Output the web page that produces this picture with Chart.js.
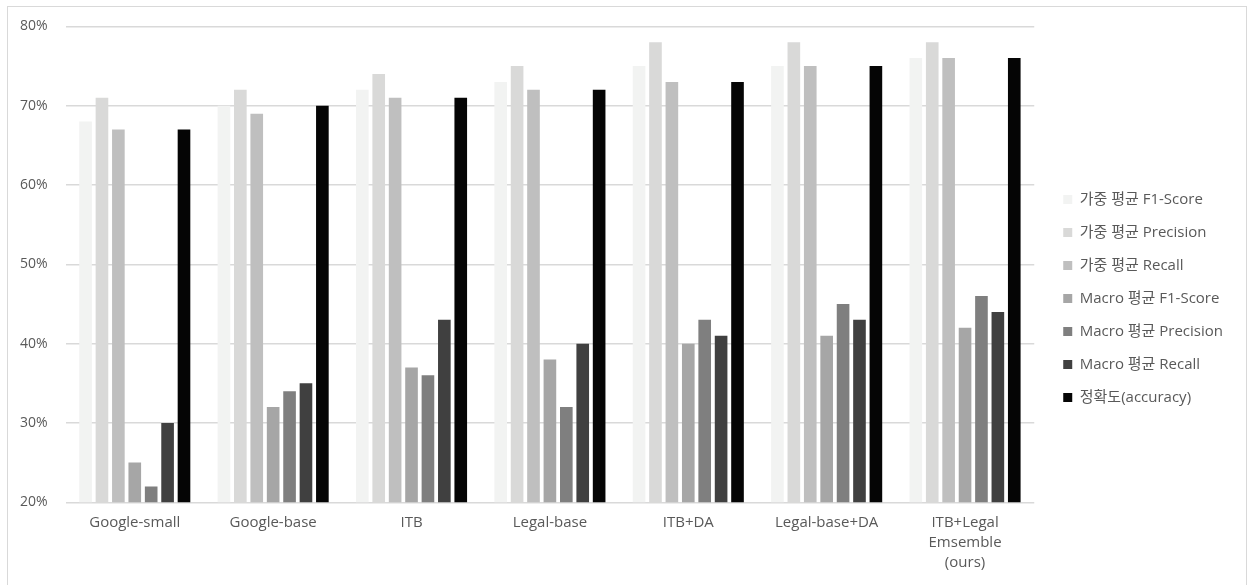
<!DOCTYPE html>
<html>
<head>
<meta charset="utf-8">
<script src="https://cdn.jsdelivr.net/npm/chart.js@4"></script>
<style>
    body { margin: 0; background: #fff; }
    #frame { position: absolute; left: 7px; top: 6px; width: 1240px; height: 600px; border: 1px solid #d9d9d9; box-sizing: border-box; }
    #wrap { position: absolute; left: 0; top: 0; width: 1249px; height: 585px; }
</style>
</head>
<body>
<div id="frame"></div>
<div id="wrap"><canvas id="barChart"></canvas></div>
<script>
const models = ['Google-small', 'Google-base', 'ITB', 'Legal-base', 'ITB+DA', 'Legal-base+DA', ['ITB+Legal', 'Emsemble', '(ours)']];

const seriesNames = [
    '가중 평균 F1-Score',
    '가중 평균 Precision',
    '가중 평균 Recall',
    'Macro 평균 F1-Score',
    'Macro 평균 Precision',
    'Macro 평균 Recall',
    '정확도(accuracy)'
];

const weightedF1 = [68, 70, 72, 73, 75, 75, 76];
const weightedPrecision = [71, 72, 74, 75, 78, 78, 78];
const weightedRecall = [67, 69, 71, 72, 73, 75, 76];
const macroF1 = [25, 32, 37, 38, 40, 41, 42];
const macroPrecision = [22, 34, 36, 32, 43, 45, 46];
const macroRecall = [30, 35, 43, 40, 41, 43, 44];
const accuracy = [67, 70, 71, 72, 73, 75, 76];

const yTicks = [20, 30, 40, 50, 60, 70, 80];

const colors = ['#f2f3f2', '#d9d9d8', '#bfbfbf', '#a6a6a6', '#7f7f7f', '#404040', '#050505'];
const allValues = [weightedF1, weightedPrecision, weightedRecall, macroF1, macroPrecision, macroRecall, accuracy];

const fontFamily = "'Open Sans', 'Noto Sans CJK KR', sans-serif";
Chart.defaults.font.family = fontFamily;
Chart.defaults.color = '#595959';

const ctx = document.getElementById('barChart').getContext('2d');
new Chart(ctx, {
    type: 'bar',
    data: {
        labels: models,
        datasets: allValues.map((vals, i) => ({
            label: seriesNames[i],
            data: vals,
            backgroundColor: colors[i],
            borderWidth: 0,
            categoryPercentage: 0.83,
            barPercentage: 0.77
        }))
    },
    options: {
        responsive: true,
        maintainAspectRatio: false,
        animation: false,
        layout: { padding: { left: 2, top: 22, right: 16, bottom: 10 } },
        scales: {
            x: {
                grid: { display: false },
                border: { display: false },
                ticks: { padding: 2, font: { size: 15, lineHeight: 1.35 }, maxRotation: 0, autoSkip: false }
            },
            y: {
                min: 20,
                max: 80,
                afterBuildTicks: s => { s.ticks = yTicks.map(v => ({ value: v })); },
                grid: { color: '#d9d9d9', lineWidth: 1.5, drawTicks: false },
                border: { display: false },
                ticks: { padding: 18, font: { size: 14 }, callback: v => v + '%' }
            },
            gap: {
                position: 'right',
                display: true,
                grid: { display: false },
                border: { display: false },
                ticks: { display: false },
                afterFit: s => { s.width = 11; }
            }
        },
        plugins: {
            legend: {
                position: 'right',
                labels: {
                    boxWidth: 9,
                    boxHeight: 9,
                    padding: 18,
                    font: { size: 15 }
                }
            },
            tooltip: { enabled: false }
        }
    }
});
</script>
</body>
</html>
